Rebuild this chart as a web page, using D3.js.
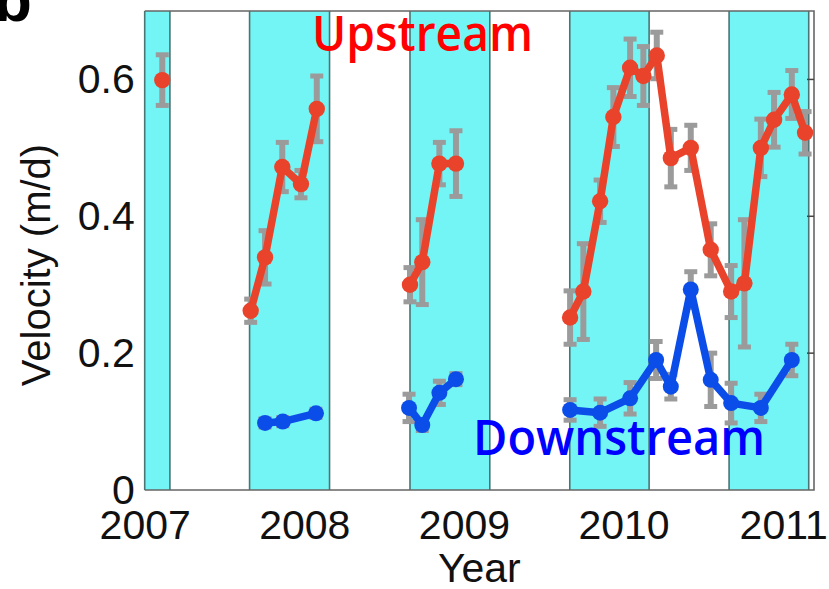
<!DOCTYPE html>
<html>
<head>
<meta charset="utf-8">
<script src="https://cdn.jsdelivr.net/npm/d3@7"></script>
<style>
  html, body { margin: 0; padding: 0; background: #ffffff; overflow: hidden; }
  svg { display: block; }
</style>
</head>
<body>
<svg id="chart" width="829" height="589"></svg>
<script>
// ---------------- data ----------------
const yearTicks = [2007, 2008, 2009, 2010, 2011];
const velocityTicks = [0, 0.2, 0.4, 0.6];

// shaded (winter) bands
const bandStarts = [2007.0, 2007.657, 2008.662, 2009.663, 2010.661];
const bandEnds   = [2007.158, 2008.158, 2009.162, 2010.160, 2011.160];

// Upstream series
const upYears  = [2007.110,
  2007.664, 2007.754, 2007.862, 2007.979, 2008.078,
  2008.662, 2008.739, 2008.846, 2008.950,
  2009.665, 2009.748, 2009.853, 2009.936, 2010.041, 2010.124, 2010.208, 2010.296,
  2010.421, 2010.546, 2010.674, 2010.757, 2010.860, 2010.943, 2011.054, 2011.137];
const upValues = [0.599,
  0.262, 0.340, 0.472, 0.447, 0.557,
  0.300, 0.333, 0.477, 0.477,
  0.252, 0.290, 0.422, 0.545, 0.617, 0.605, 0.635, 0.485,
  0.500, 0.351, 0.290, 0.302, 0.500, 0.541, 0.578, 0.522];
const upErrors = [0.037,
  0.017, 0.039, 0.036, 0.020, 0.048,
  0.025, 0.062, 0.031, 0.048,
  0.039, 0.070, 0.031, 0.043, 0.042, 0.043, 0.034, 0.042,
  0.033, 0.038, 0.038, 0.093, 0.042, 0.040, 0.035, 0.031];
const upGroups = [0, 1, 1, 1, 1, 1, 2, 2, 2, 2,
  3, 3, 3, 3, 3, 3, 3, 3, 3, 3, 3, 3, 3, 3, 3, 3];

// Downstream series
const downYears  = [2007.754, 2007.865, 2008.073,
  2008.656, 2008.739, 2008.846, 2008.950,
  2009.665, 2009.853, 2010.041, 2010.204, 2010.296, 2010.421, 2010.546, 2010.674,
  2010.860, 2011.054];
const downValues = [0.098, 0.100, 0.112,
  0.120, 0.095, 0.142, 0.162,
  0.117, 0.113, 0.134, 0.190, 0.151, 0.293, 0.161, 0.127,
  0.120, 0.190];
const downErrors = [0.006, 0.006, 0.006,
  0.020, 0.008, 0.017, 0.008,
  0.015, 0.020, 0.023, 0.027, 0.018, 0.026, 0.039, 0.029,
  0.020, 0.023];
const downGroups = [1, 1, 1, 2, 2, 2, 2, 3, 3, 3, 3, 3, 3, 3, 3, 3, 3];

// ---------------- layout ----------------
const svg = d3.select("#chart");
const pLeft = 144.7, pRight = 814, pTop = 11, pBottom = 490;

const x = d3.scaleLinear().domain([2007, 2011.193]).range([pLeft, pRight]);
const y = d3.scaleLinear().domain([0, 0.7]).range([pBottom, pTop]);

const FONT = "'Liberation Sans', Arial, Helvetica, sans-serif";

// bands
const bands = bandStarts.map((s, i) => ({ s, e: bandEnds[i] }));
svg.append("g").selectAll("rect").data(bands).join("rect")
  .attr("x", d => x(d.s)).attr("y", pTop)
  .attr("width", d => x(d.e) - x(d.s)).attr("height", pBottom - pTop)
  .attr("fill", "#74f5f5");

// band border lines
const edges = bandStarts.concat(bandEnds);
svg.append("g").selectAll("line").data(edges).join("line")
  .attr("x1", d => x(d)).attr("x2", d => x(d))
  .attr("y1", pTop).attr("y2", pBottom)
  .attr("stroke", "#4b7474").attr("stroke-width", 1.6);

// frame: top, right, bottom
svg.append("path")
  .attr("d", `M${pLeft},${pTop}H${pRight}V${pBottom}H${pLeft}`)
  .attr("fill", "none").attr("stroke", "#666").attr("stroke-width", 1.6);

// right-side inward ticks
svg.append("g").selectAll("line").data(velocityTicks.filter(v => v > 0)).join("line")
  .attr("x1", pRight).attr("x2", pRight - 7)
  .attr("y1", d => y(d)).attr("y2", d => y(d))
  .attr("stroke", "#444").attr("stroke-width", 1.5);

// axes
const yAxis = d3.axisLeft(y).tickValues(velocityTicks)
  .tickFormat(d => d === 0 ? "0" : d.toFixed(1)).tickSize(0).tickPadding(10);
const gy = svg.append("g").attr("transform", `translate(${pLeft},0)`).call(yAxis);
gy.select(".domain").remove();
gy.selectAll("text").attr("font-family", FONT).attr("font-size", 41).attr("fill", "#111");

const xAxis = d3.axisBottom(x).tickValues(yearTicks).tickFormat(d3.format("d"))
  .tickSize(0).tickPadding(20);
const gx = svg.append("g").attr("transform", `translate(0,${pBottom})`).call(xAxis);
gx.select(".domain").remove();
gx.selectAll("text").attr("font-family", FONT).attr("font-size", 41).attr("fill", "#111");

// axis titles
svg.append("text")
  .attr("x", (pLeft + pRight) / 2).attr("y", 582)
  .attr("text-anchor", "middle")
  .attr("font-family", FONT).attr("font-size", 41).attr("fill", "#111")
  .text("Year");

svg.append("text")
  .attr("transform", `translate(50,265) rotate(-90)`)
  .attr("text-anchor", "middle")
  .attr("font-family", FONT).attr("font-size", 40).attr("fill", "#111")
  .text("Velocity (m/d)");

// panel letter
svg.append("text")
  .attr("x", -6).attr("y", 21)
  .attr("font-family", FONT).attr("font-weight", "bold").attr("font-size", 62).attr("fill", "#000")
  .text("b");

// ---------------- series ----------------
function drawSeries(years, values, errors, groups, color, r) {
  const pts = years.map((t, i) => ({ t, v: values[i], e: errors[i], g: groups[i] }));
  const g = svg.append("g");
  // error bars
  const eb = g.append("g").selectAll("g").data(pts).join("g");
  eb.append("line")
    .attr("x1", d => x(d.t)).attr("x2", d => x(d.t))
    .attr("y1", d => y(d.v - d.e)).attr("y2", d => y(d.v + d.e))
    .attr("stroke", "#9b9b9b").attr("stroke-width", 6);
  eb.append("line")
    .attr("x1", d => x(d.t) - 6.5).attr("x2", d => x(d.t) + 6.5)
    .attr("y1", d => y(d.v - d.e)).attr("y2", d => y(d.v - d.e))
    .attr("stroke", "#9b9b9b").attr("stroke-width", 5);
  eb.append("line")
    .attr("x1", d => x(d.t) - 6.5).attr("x2", d => x(d.t) + 6.5)
    .attr("y1", d => y(d.v + d.e)).attr("y2", d => y(d.v + d.e))
    .attr("stroke", "#9b9b9b").attr("stroke-width", 5);
  // lines per group
  const grouped = d3.groups(pts, d => d.g);
  const line = d3.line().x(d => x(d.t)).y(d => y(d.v));
  g.append("g").selectAll("path").data(grouped).join("path")
    .attr("d", d => line(d[1]))
    .attr("fill", "none").attr("stroke", color).attr("stroke-width", 7.5)
    .attr("stroke-linejoin", "round");
  // points
  g.append("g").selectAll("circle").data(pts).join("circle")
    .attr("cx", d => x(d.t)).attr("cy", d => y(d.v)).attr("r", r)
    .attr("fill", color);
}

drawSeries(downYears, downValues, downErrors, downGroups, "#0b4de8", 8);
drawSeries(upYears, upValues, upErrors, upGroups, "#ea432b", 8.2);

// series labels
svg.append("text")
  .attr("x", 312).attr("y", 51)
  .attr("font-family", "'Open Sans', 'Noto Sans', sans-serif").attr("font-weight", 600)
  .attr("font-size", 49).attr("fill", "#ff0000")
  .attr("textLength", 221).attr("lengthAdjust", "spacingAndGlyphs")
  .text("Upstream");

svg.append("text")
  .attr("x", 473).attr("y", 455)
  .attr("font-family", "'Open Sans', 'Noto Sans', sans-serif").attr("font-weight", 600)
  .attr("font-size", 49).attr("fill", "#0000ff")
  .attr("textLength", 292).attr("lengthAdjust", "spacingAndGlyphs")
  .text("Downstream");
</script>
</body>
</html>
